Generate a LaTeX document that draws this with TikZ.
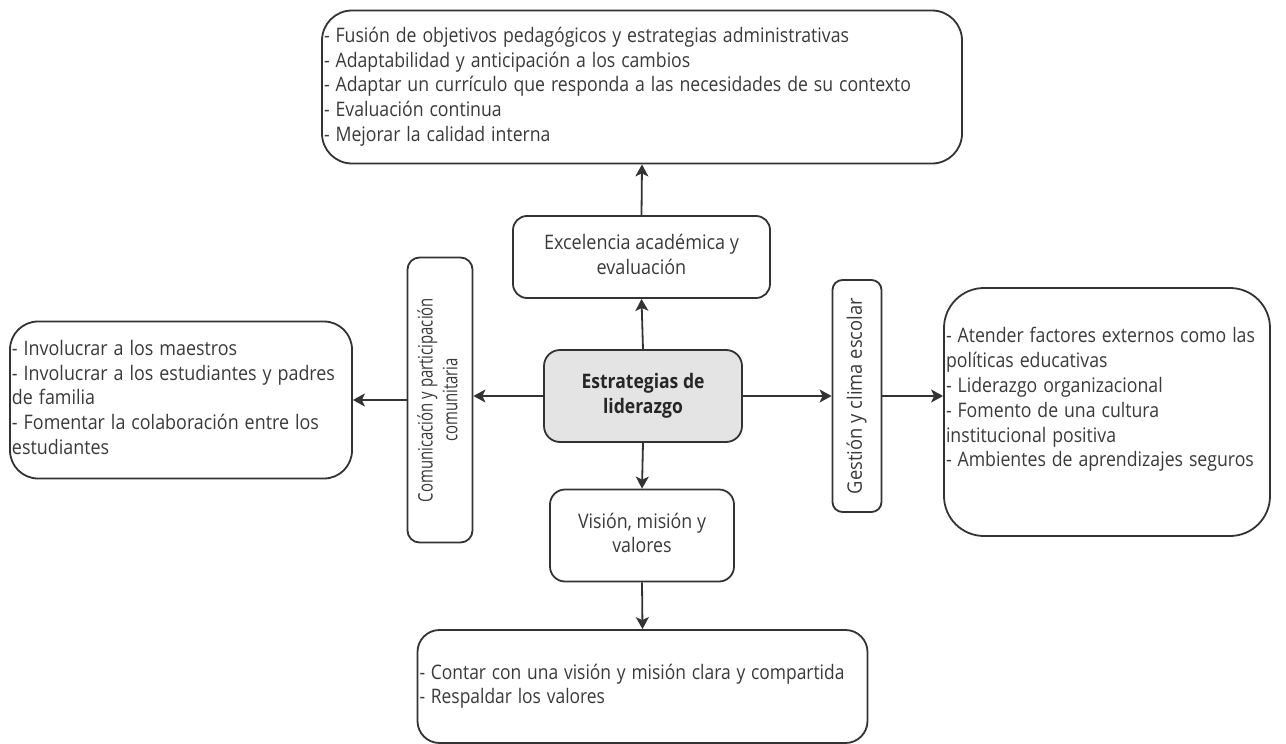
\documentclass[tikz,border=0pt]{standalone}
\usepackage{fontspec}
\setmainfont{Open Sans}
\usetikzlibrary{arrows.meta}
\definecolor{ink}{HTML}{333333}
\definecolor{txt}{HTML}{3A3A3A}
\definecolor{hub}{HTML}{E4E4E4}
% set a block of lines and squeeze it horizontally to a given width
\newcommand{\lefttext}[2]{\resizebox{#1}{\height}{\begin{tabular}{@{}l@{}}#2\end{tabular}}}
\newcommand{\centertext}[2]{\resizebox{#1}{\height}{\begin{tabular}{@{}c@{}}#2\end{tabular}}}
\tikzset{
  box/.style={draw=ink, line width=1.8pt, fill=white, text=txt, inner sep=2pt,
    font=\fontsize{20}{24.8}\selectfont},
  arr/.style={draw=ink, line width=1.8pt, -{Stealth[length=12pt,width=13pt,inset=3pt]}}
}
\begin{document}
\begin{tikzpicture}[x=1pt,y=-1pt]
\useasboundingbox (0,0) rectangle (1286,744);

% centre
\node[box, fill=hub, text=black!85, font=\fontsize{20}{24.8}\selectfont\bfseries,
  minimum width=198pt, minimum height=92pt, rounded corners=16pt] (ctr) at (643,396)
  {\centertext{123pt}{Estrategias de\\liderazgo}};

% first ring
\node[box, minimum width=257pt, minimum height=82pt, rounded corners=14pt] (exc) at (641.5,257)
  {\centertext{195pt}{Excelencia académica y\\evaluación}};
\node[box, minimum width=184pt, minimum height=92pt, rounded corners=15pt] (vis) at (642,535.5)
  {\centertext{128pt}{Visión, misión y\\valores}};
\node[box, minimum width=65pt, minimum height=285pt, rounded corners=12pt] (comm) at (440,400)
  {\rotatebox{90}{\centertext{204pt}{Comunicación y participación\\comunitaria}}};
\node[box, minimum width=49pt, minimum height=232pt, rounded corners=10pt] (gest) at (857,396)
  {\rotatebox{90}{\centertext{196pt}{Gestión y clima escolar}}};

% outer lists
\node[box, minimum width=640pt, minimum height=153pt, text width=636pt, rounded corners=30pt] (top) at (642,87)
  {\lefttext{587pt}{- Fusión de objetivos pedagógicos y estrategias administrativas\\
   - Adaptabilidad y anticipación a los cambios\\
   - Adaptar un currículo que responda a las necesidades de su contexto\\
   - Evaluación continua\\
   - Mejorar la calidad interna}};
\node[box, minimum width=342pt, minimum height=157pt, text width=338pt, rounded corners=28pt] (lft) at (181,400)
  {\lefttext{323pt}{- Involucrar a los maestros\\
   - Involucrar a los estudiantes y padres\\
   de familia\\
   - Fomentar la colaboración entre los\\
   estudiantes}};
\node[box, minimum width=326pt, minimum height=248pt, text width=322pt, rounded corners=40pt] (rgt) at (1107,412)
  {\raisebox{12pt}[\height][\depth]{\lefttext{309pt}{- Atender factores externos como las\\
   políticas educativas\\
   - Liderazgo organizacional\\
   - Fomento de una cultura\\
   institucional positiva\\
   - Ambientes de aprendizajes seguros}}};
\node[box, minimum width=450pt, minimum height=113pt, text width=446pt, rounded corners=22pt] (bot) at (642.5,686.5)
  {\lefttext{425pt}{- Contar con una visión y misión clara y compartida\\
   - Respaldar los valores}};

% connectors
\draw[arr] (ctr.north) -- (exc.south);
\draw[arr] (exc.north) -- (top.south);
\draw[arr] (ctr.south) -- (vis.north);
\draw[arr] (vis.south) -- (bot.north);
\draw[arr] (ctr.west) -- (comm.east |- ctr.west);
\draw[arr] (comm.west |- lft.east) -- (lft.east);
\draw[arr] (ctr.east) -- (gest.west |- ctr.east);
\draw[arr] (gest.east) -- (rgt.west |- gest.east);
\end{tikzpicture}
\end{document}
